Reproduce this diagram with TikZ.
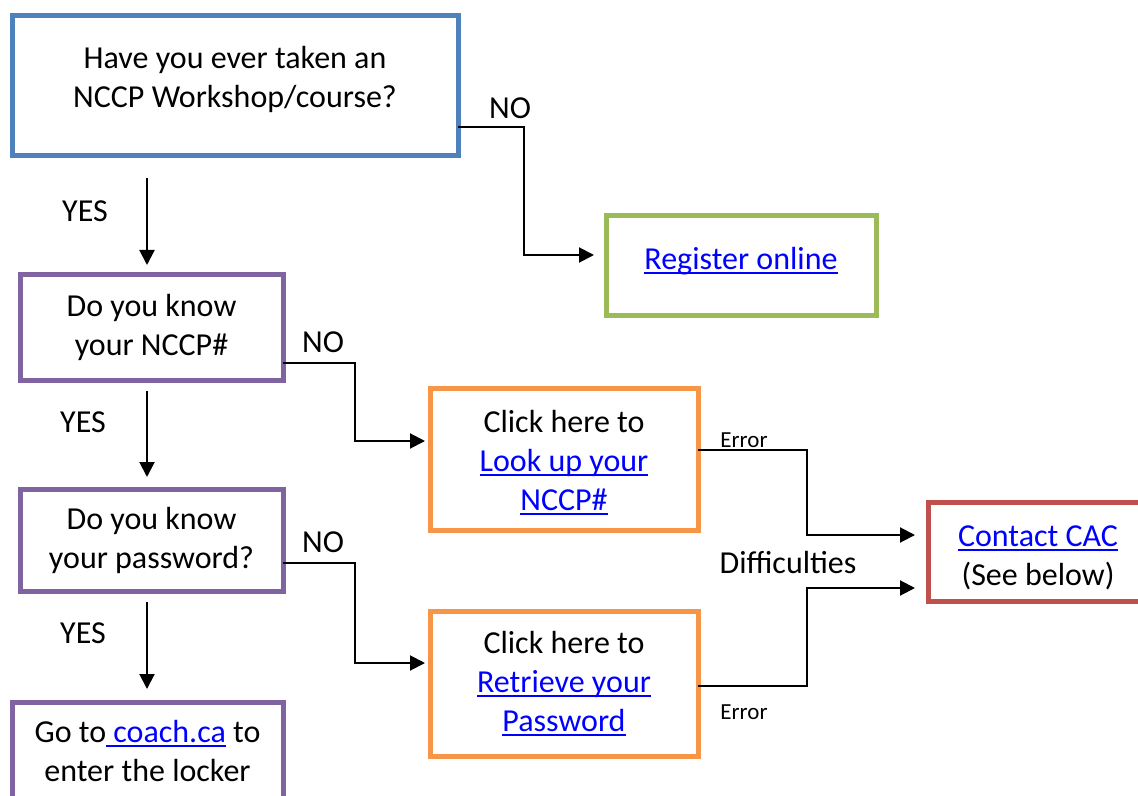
\documentclass[tikz,border=0pt]{standalone}
\usepackage{fontspec}
\setmainfont{Carlito}
\usetikzlibrary{arrows.meta}
\definecolor{qblue}{HTML}{4F81BD}
\definecolor{qgreen}{HTML}{9BBB59}
\definecolor{qpurple}{HTML}{8064A2}
\definecolor{qorange}{HTML}{F79646}
\definecolor{qred}{HTML}{C0504D}
\definecolor{linkblue}{HTML}{0000FF}
\newcommand{\weblink}[1]{\textcolor{linkblue}{\setbox0\hbox{#1}\rlap{\rule[-2.4pt]{\wd0}{1pt}}\box0}}
\newcommand{\padbelow}[1]{\rule[-#1]{0pt}{#1}}
\newcommand{\padabove}[1]{\rule{0pt}{#1}}
\tikzset{
  box/.style={draw,line width=2.5pt,outer sep=0pt,inner sep=0pt,align=center,font=\fontsize{16}{19.5}\selectfont},
  flow/.style={line width=1pt,-{Triangle[length=7.5pt,width=7.5pt]}},
  lbl/.style={inner sep=0pt,font=\fontsize{16}{19.5}\selectfont},
  small/.style={inner sep=0pt,font=\fontsize{11.5}{14}\selectfont}
}

\begin{document}
\begin{tikzpicture}[x=0.5pt,y=-0.5pt]
    \useasboundingbox (0,0) rectangle (1138,796);
    \node[box,draw=qblue,minimum width=223pt,minimum height=70pt] (q1) at (235,86) {Have you ever taken an\\NCCP Workshop/course?\padbelow{9pt}};
    \node[box,draw=qgreen,minimum width=135pt,minimum height=49.5pt] (reg) at (741,265.5) {\weblink{Register online}\padbelow{7pt}};
    \node[box,draw=qpurple,minimum width=131.5pt,minimum height=52.5pt] (q2) at (151.5,327.5) {Do you know\\your NCCP\#};
    \node[box,draw=qpurple,minimum width=131.5pt,minimum height=51pt] (q3) at (151.5,540) {Do you know\\your password?};
    \node[box,draw=qpurple,minimum width=135.5pt,inner ysep=9pt,anchor=north] (goto) at (147.5,702) {Go to\weblink{\ coach.ca} to\\enter the locker};
    \node[box,draw=qorange,minimum width=134pt,minimum height=71pt] (lookup) at (564,459) {\padabove{15pt}Click here to\\\weblink{Look up your}\\\weblink{NCCP\#}};
    \node[box,draw=qorange,minimum width=134pt,minimum height=72.5pt] (retrieve) at (564,683.5) {Click here to\\\weblink{Retrieve your}\\\weblink{Password}};
    \node[box,draw=qred,minimum width=110pt,minimum height=49.5pt] (contact) at (1038,551.5) {\padabove{16.3pt}\weblink{Contact CAC}\\(See below)};

    \draw[flow] ([shift={(-88,22)}]q1.south) -- ([shift={(-4.5,-10)}]q2.north);
    \draw[flow] ([shift={(-4.5,11)}]q2.south) -- ([shift={(-4.5,-12)}]q3.north);
    \draw[flow] ([shift={(-4.5,11)}]q3.south) -- ([shift={(-0.5,-13)}]goto.north);
    \draw[flow,shorten >=6pt] ([shift={(0,41)}]q1.east) -- ++(66,0) |- ([shift={(0,-10.5)}]reg.west);
    \draw[flow,shorten >=2.5pt] ([shift={(0,35.5)}]q2.east) -- ++(72,0) |- ([shift={(0,-18)}]lookup.west);
    \draw[flow,shorten >=2.5pt] ([shift={(0,23)}]q3.east) -- ++(72,0) |- ([shift={(0,-20.5)}]retrieve.west);
    \draw[flow,shorten >=6.5pt] ([shift={(0,-9)}]lookup.east) -- ++(109,0) |- ([shift={(0,-16.5)}]contact.west);
    \draw[flow,shorten >=6.5pt] ([shift={(0,2.5)}]retrieve.east) -- ++(109,0) |- ([shift={(0,36.5)}]contact.west);

    \node[lbl] (yes1) at (85,211) {YES};
    \node[lbl] (yes2) at (83,422) {YES};
    \node[lbl] (yes3) at (83,633) {YES};
    \node[lbl] (no1) at (510,108) {NO};
    \node[lbl] (no2) at (323,342) {NO};
    \node[lbl] (no3) at (323,542) {NO};
    \node[small] (err1) at (744,440) {Error};
    \node[small] (err2) at (744,712) {Error};
    \node[lbl] (diff) at (788,563) {Difficulties};
\end{tikzpicture}
\end{document}
